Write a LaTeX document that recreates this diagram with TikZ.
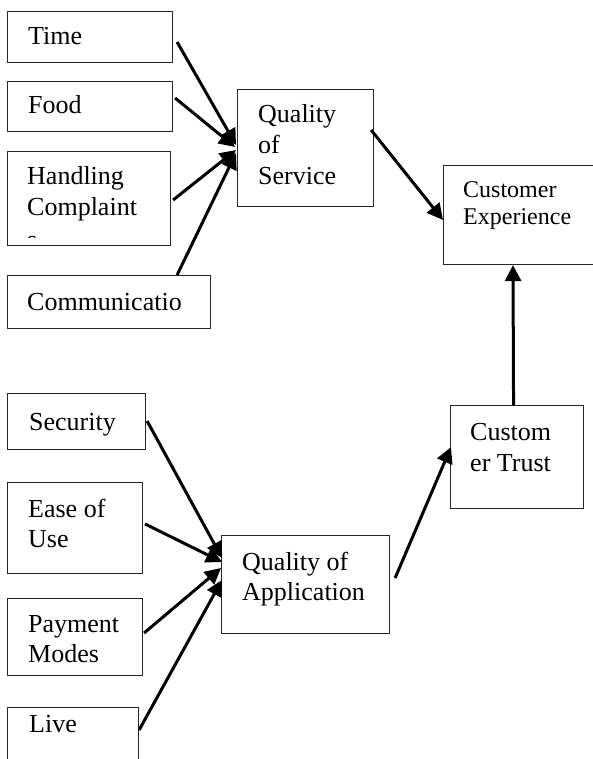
\documentclass[tikz,border=0pt]{standalone}
\usepackage{fontspec}
\setmainfont{Liberation Serif}
\usetikzlibrary{arrows.meta}
\begin{document}
\begin{tikzpicture}[x=1pt,y=1pt,
  box/.style={draw=black!85, line width=1.1pt, anchor=north west, inner sep=0pt},
  lbl/.style={anchor=base west, inner sep=0pt, font=\fontsize{26}{30}\selectfont},
  lblsmall/.style={anchor=base west, inner sep=0pt, font=\fontsize{24}{28}\selectfont},
  arr/.style={line width=3pt, -{Triangle[length=16pt,width=16pt]}}]
\useasboundingbox (0,0) rectangle (593,-759);
\clip (0,0) rectangle (593,-759);

% factor boxes, service side
\node[box, minimum width=165pt, minimum height=51pt] (time) at (7,-11) {};
\node[box, minimum width=165pt, minimum height=50pt] (food) at (7,-81) {};
\node[box, minimum width=163pt, minimum height=94pt] (handling) at (7,-151) {};
\node[box, minimum width=203pt, minimum height=53pt] (comm) at (7,-275) {};
\node[box, minimum width=136pt, minimum height=117pt] (qos) at (237,-89) {};
\node[box, minimum width=170pt, minimum height=99pt] (ce) at (443,-165) {};

% factor boxes, application side
\node[box, minimum width=138pt, minimum height=56pt] (sec) at (7,-393) {};
\node[box, minimum width=135pt, minimum height=91pt] (ease) at (7,-482) {};
\node[box, minimum width=135pt, minimum height=77pt] (pay) at (7,-598) {};
\node[box, minimum width=131pt, minimum height=70pt] (live) at (7,-707) {};
\node[box, minimum width=168pt, minimum height=98pt] (qoa) at (221,-535) {};
\node[box, minimum width=133pt, minimum height=103pt] (ct) at (450,-405) {};

% labels
\node[lbl] (time-t) at (28,-45) {Time};
\node[lbl] (food-t) at (28,-114) {Food};
\node[lbl] (hdl-1) at (27,-185) {Handling};
\node[lbl] (hdl-2) at (27,-215) {Complaint};
\begin{scope}
  \clip (7,-151) rectangle (170,-237);
  \node[lbl] (hdl-3) at (27,-248) {s};
\end{scope}
\node[lbl] (comm-t) at (27,-310) {Communicatio};
\node[lbl] (qos-1) at (258,-123) {Quality};
\node[lbl] (qos-2) at (258,-154) {of};
\node[lbl] (qos-3) at (258,-185) {Service};
\node[lblsmall] (ce-1) at (463,-197) {Customer};
\node[lblsmall] (ce-2) at (463,-225) {Experience};
\node[lbl] (sec-t) at (29,-430) {Security};
\node[lbl] (ease-1) at (28,-517) {Ease of};
\node[lbl] (ease-2) at (28,-547) {Use};
\node[lbl] (pay-1) at (28,-632) {Payment};
\node[lbl] (pay-2) at (28,-662) {Modes};
\node[lbl] (live-t) at (29,-732) {Live};
\node[lbl] (qoa-1) at (242,-570) {Quality of};
\node[lbl] (qoa-2) at (242,-600) {Application};
\node[lbl] (ct-1) at (470,-440) {Custom};
\node[lbl] (ct-2) at (470,-471) {er Trust};

% connectors into Quality of Service
\draw[arr] ([shift={(4,-31)}]time.north east) -- ([shift={(-1,-56)}]qos.north west);
\draw[arr] ([shift={(2,-17)}]food.north east) -- ([shift={(-2,-58)}]qos.north west);
\draw[arr] ([shift={(2,-49)}]handling.north east) -- ([shift={(-1,-61)}]qos.north west);
\draw[arr] ([xshift=-34pt]comm.north east) -- ([shift={(-1,-64)}]qos.north west);

% service to experience
\draw[arr] ([shift={(-3,-41)}]qos.north east) -- ([shift={(0,-55)}]ce.north west);

% connectors into Quality of Application
\draw[arr] ([shift={(1,-28)}]sec.north east) -- ([shift={(1,-23)}]qoa.north west);
\draw[arr] ([shift={(2,-42)}]ease.north east) -- ([shift={(1,-27)}]qoa.north west);
\draw[arr] ([shift={(1,-35)}]pay.north east) -- ([shift={(0,-33)}]qoa.north west);
\draw[arr] ([shift={(0,-23)}]live.north east) -- ([shift={(1,-45)}]qoa.north west);

% application to trust, trust to experience
\draw[arr] ([shift={(5,-43)}]qoa.north east) -- ([shift={(1,-42)}]ct.north west);
\draw[arr] ([xshift=-3.5pt]ct.north) -- ([xshift=70pt]ce.south west);
\end{tikzpicture}
\end{document}
